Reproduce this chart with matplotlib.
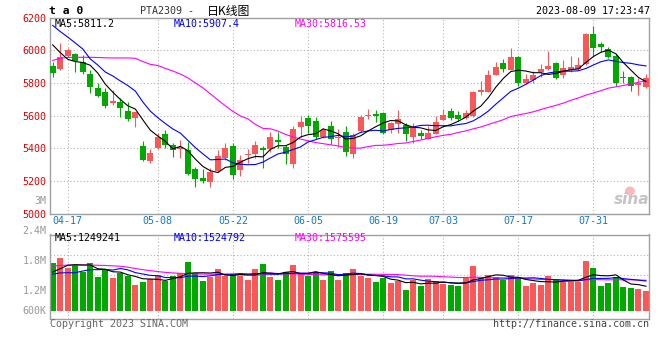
import matplotlib
matplotlib.use('Agg')
import matplotlib.pyplot as plt
import numpy as np
from matplotlib.patches import Ellipse

# ---------------- data ----------------
tick_labels = ['04-17', '05-08', '05-22', '06-05', '06-19', '07-03', '07-17', '07-31']
tick_idx = [2, 14, 24, 34, 44, 52, 62, 72]

opens = [5904, 5884, 5967, 5978, 5927, 5855, 5767, 5743, 5680, 5682,
         5629, 5588, 5414, 5324, 5400, 5488, 5420, 5396, 5390, 5271,
         5216, 5196, 5261, 5339, 5414, 5269, 5357, 5367, 5402, 5396,
         5449, 5410, 5306, 5533, 5584, 5565, 5471, 5537, 5461, 5498,
         5363, 5506, 5600, 5610, 5618, 5512, 5547, 5543, 5469, 5494,
         5457, 5488, 5576, 5629, 5604, 5586, 5598, 5747, 5747, 5849,
         5920, 5880, 5959, 5800, 5816, 5865, 5886, 5920, 5849, 5878,
         5886, 5916, 6100, 6039, 6006, 5965, 5837, 5837, 5788, 5778]
highs = [5931, 6045, 6016, 5982, 5971, 5880, 5798, 5767, 5755, 5710,
         5682, 5625, 5447, 5396, 5494, 5512, 5431, 5449, 5441, 5288,
         5275, 5282, 5390, 5433, 5435, 5359, 5396, 5445, 5414, 5498,
         5502, 5420, 5537, 5600, 5604, 5594, 5522, 5567, 5516, 5537,
         5492, 5604, 5639, 5635, 5624, 5563, 5635, 5553, 5557, 5512,
         5535, 5596, 5639, 5649, 5627, 5635, 5751, 5812, 5880, 5931,
         5947, 6012, 5963, 5853, 5876, 5914, 5996, 5927, 5939, 5965,
         5959, 6104, 6149, 6053, 6018, 5978, 5873, 5845, 5829, 5853]
lows = [5835, 5880, 5957, 5869, 5857, 5741, 5712, 5649, 5665, 5594,
        5567, 5533, 5322, 5312, 5398, 5400, 5349, 5340, 5238, 5161,
        5185, 5165, 5255, 5329, 5212, 5231, 5308, 5343, 5278, 5380,
        5400, 5306, 5280, 5469, 5492, 5455, 5465, 5427, 5410, 5353,
        5343, 5498, 5578, 5563, 5486, 5492, 5496, 5445, 5435, 5457,
        5455, 5486, 5571, 5571, 5567, 5580, 5594, 5727, 5745, 5847,
        5865, 5878, 5784, 5792, 5798, 5837, 5880, 5824, 5833, 5865,
        5880, 5910, 5967, 5992, 5951, 5782, 5798, 5751, 5727, 5767]
closes = [5863, 5957, 6000, 5937, 5869, 5778, 5720, 5661, 5690, 5649,
          5582, 5620, 5331, 5373, 5469, 5422, 5388, 5408, 5241, 5210,
          5198, 5257, 5353, 5400, 5239, 5327, 5365, 5420, 5388, 5469,
          5439, 5363, 5518, 5559, 5539, 5467, 5512, 5457, 5471, 5380,
          5482, 5592, 5606, 5600, 5496, 5557, 5580, 5490, 5522, 5478,
          5494, 5561, 5606, 5588, 5580, 5618, 5747, 5757, 5849, 5900,
          5886, 5957, 5798, 5824, 5849, 5886, 5904, 5829, 5890, 5898,
          5910, 6100, 6012, 6020, 5961, 5798, 5829, 5782, 5798, 5833]
volumes = [2504000, 2765000, 2243000, 2383000, 2035000, 2504000, 1774000, 2122000, 1722000, 1948000,
           1809000, 1339000, 1513000, 1652000, 1861000, 1548000, 1809000, 1983000, 2557000, 1983000,
           1565000, 1739000, 2191000, 1809000, 1913000, 1809000, 1600000, 2191000, 2452000, 1739000,
           1600000, 2035000, 2383000, 1913000, 1809000, 2035000, 1600000, 2070000, 1600000, 1983000,
           2174000, 1809000, 1722000, 1513000, 1722000, 1461000, 1548000, 1078000, 1600000, 1304000,
           1652000, 1548000, 1391000, 1339000, 1287000, 1687000, 2330000, 1739000, 1843000, 1739000,
           1600000, 1843000, 1687000, 1287000, 1426000, 1339000, 1809000, 1600000, 1513000, 1513000,
           1513000, 2591000, 2243000, 1287000, 1461000, 1774000, 1235000, 1200000, 1130000, 1043000]

# moving-average values before enough history is visible
ma5_head = [6033, 5986, 5945, 5931]
ma10_head = [6152, 6115, 6081, 6045, 6008, 5947, 5910, 5867, 5843]
ma30_head = [5938, 5951, 5956, 5957, 5957, 5957, 5956, 5954, 5953, 5953,
             5953, 5951, 5931, 5914, 5907, 5889, 5873, 5855, 5831, 5800,
             5770, 5733, 5696, 5660, 5626, 5598, 5580, 5546, 5522]
vma5_head = [2020000, 2190000, 2370000, 2400000]
vma10_head = [1910000, 1970000, 1980000, 1980000, 2070000, 2140000, 2140000, 2150000, 2120000]
vma30_head = [2330000, 2360000, 2380000, 2380000, 2380000, 2380000, 2370000, 2360000, 2340000, 2320000,
              2270000, 2200000, 2140000, 2090000, 2040000, 2000000, 1970000, 1950000, 1930000, 1920000,
              1910000, 1910000, 1900000, 1890000, 1880000, 1870000, 1870000, 1860000, 1860000]


def moving_avg(vals, n, head):
    vals = np.asarray(vals, dtype=float)
    out = list(head)
    for i in range(n - 1, len(vals)):
        out.append(vals[i - n + 1:i + 1].mean())
    return np.array(out)


ma5 = moving_avg(closes, 5, ma5_head)
ma10 = moving_avg(closes, 10, ma10_head)
ma30 = moving_avg(closes, 30, ma30_head)
vma5 = moving_avg(volumes, 5, vma5_head)
vma10 = moving_avg(volumes, 10, vma10_head)
vma30 = moving_avg(volumes, 30, vma30_head)

# ---------------- style ----------------
RED = '#fa5858'
GREEN = '#00a800'
GRID = '#b4b4b4'
BORDER = '#a0a0a0'
MONO = ['DejaVu Sans Mono', 'Noto Sans CJK SC']
plt.rcParams['font.family'] = MONO

W, H = 660, 360
fig = plt.figure(figsize=(W / 100, H / 100), dpi=100)
fig.patch.set_facecolor('white')


def fx(px):
    return px / W


def fy(py):
    return 1 - py / H


x = np.arange(len(closes))
up = np.array(closes) >= np.array(opens)
cols = [RED if u else GREEN for u in up]

# ---------------- price panel ----------------
ax = fig.add_axes([fx(50), fy(213.7), (649 - 50) / W, (213.7 - 17.6) / H])
ax.set_xlim(-0.36, 79.4)
ax.set_ylim(5000, 6200)

for yv in [5200, 5400, 5600, 5800, 6000]:
    ax.axhline(yv, color=GRID, lw=0.8, ls=(0, (1, 2)), zorder=0)
for xi in tick_idx:
    ax.axvline(xi, color=GRID, lw=0.8, ls=(0, (1, 2)), zorder=0)

o = np.array(opens, float)
c = np.array(closes, float)
bottoms = np.minimum(o, c)
heights = np.maximum(np.abs(c - o), 6)
ax.vlines(x, lows, highs, colors=cols, lw=0.8, zorder=2)
ax.bar(x, heights, bottom=bottoms, width=0.8, color=cols, lw=0, zorder=3)

ax.plot(x, ma30, color='#ff00ff', lw=0.8, zorder=4)
ax.plot(x, ma10, color='#0000ff', lw=0.8, zorder=4)
ax.plot(x, ma5, color='black', lw=0.8, zorder=4)

ax.set_yticks([5000, 5200, 5400, 5600, 5800, 6000, 6200])
ax.set_yticklabels(['5000', '5200', '5400', '5600', '5800', '6000', '6200'],
                   color='#e00000', fontsize=7.2)
ax.set_xticks(tick_idx)
ax.set_xticklabels(tick_labels, color='#1478c8', fontsize=7.2)
ax.tick_params(axis='both', length=0)
ax.tick_params(axis='y', pad=2.6)
ax.tick_params(axis='x', pad=1.6)
for s in ax.spines.values():
    s.set_color(BORDER)
    s.set_linewidth(1.0)

# sina watermark
fig.patches.append(Ellipse((fx(630), fy(191)), 10 / W, 9 / H, transform=fig.transFigure,
                           facecolor='#f6b4b4', edgecolor='none', alpha=0.9))
fig.text(fx(649), fy(200), 'sina', ha='right', va='center', fontsize=11,
         family='DejaVu Sans', style='italic', weight='bold', color='#c4c4c4')

# ---------------- volume panel ----------------
axv = fig.add_axes([fx(50), fy(318.5), (649 - 50) / W, (318.5 - 234.5) / H])
axv.set_xlim(-0.36, 79.4)
v_lo, v_hi = -0.407e6, 3.975e6
axv.set_ylim(v_lo, v_hi)
for frac in [0.75, 0.52, 0.29]:
    axv.axhline(v_lo + frac * (v_hi - v_lo), color=GRID, lw=0.8, ls=(0, (1, 2)), zorder=0)
for xi in tick_idx:
    axv.axvline(xi, color=GRID, lw=0.8, ls=(0, (1, 2)), zorder=0)
axv.bar(x, volumes, width=0.8, color=cols, lw=0, zorder=2)
axv.plot(x, vma30, color='#ff00ff', lw=0.8, zorder=4)
axv.plot(x, vma10, color='#0000ff', lw=0.8, zorder=4)
axv.plot(x, vma5, color='black', lw=0.8, zorder=4)
axv.set_xticks([])
axv.set_yticks([])
for s in axv.spines.values():
    s.set_color(BORDER)
    s.set_linewidth(1.0)

# ---------------- texts ----------------
fig.text(fx(49), fy(11), 't a 0', ha='left', va='center', fontsize=8.2, weight='bold', color='black')
fig.text(fx(140.5), fy(11), 'PTA2309 -', ha='left', va='center', fontsize=7.2, color='#333333')
fig.text(fx(207), fy(11), '日K线图', ha='left', va='center', fontsize=8.6,
         family=['Noto Sans CJK SC', 'DejaVu Sans'], color='black')
fig.text(fx(650), fy(11.5), '2023-08-09 17:23:47', ha='right', va='center', fontsize=7.2, color='black')

fig.text(fx(55), fy(24), 'MA5:5811.2', ha='left', va='center', fontsize=7.2, color='black')
fig.text(fx(174), fy(24), 'MA10:5907.4', ha='left', va='center', fontsize=7.2, color='#0000ff')
fig.text(fx(295), fy(24), 'MA30:5816.53', ha='left', va='center', fontsize=7.2, color='#ff00ff')

fig.text(fx(46.5), fy(200.5), '3M', ha='right', va='center', fontsize=7.2, color='#999999')

fig.text(fx(55), fy(238), 'MA5:1249241', ha='left', va='center', fontsize=7.2, color='black')
fig.text(fx(174), fy(238), 'MA10:1524792', ha='left', va='center', fontsize=7.2, color='#0000ff')
fig.text(fx(295), fy(238), 'MA30:1575595', ha='left', va='center', fontsize=7.2, color='#ff00ff')

for lab, py in [('2.4M', 231), ('1.8M', 261.3), ('1.2M', 291), ('600K', 310.7)]:
    fig.text(fx(46.5), fy(py), lab, ha='right', va='center', fontsize=7.2, color='#999999')

fig.text(fx(50), fy(324), 'Copyright 2023 SINA.COM', ha='left', va='center', fontsize=7.2, color='#666666')
fig.text(fx(649), fy(324), 'http://finance.sina.com.cn', ha='right', va='center', fontsize=7.2, color='#444444')

fig.savefig('out.png', dpi=100, facecolor='white')
